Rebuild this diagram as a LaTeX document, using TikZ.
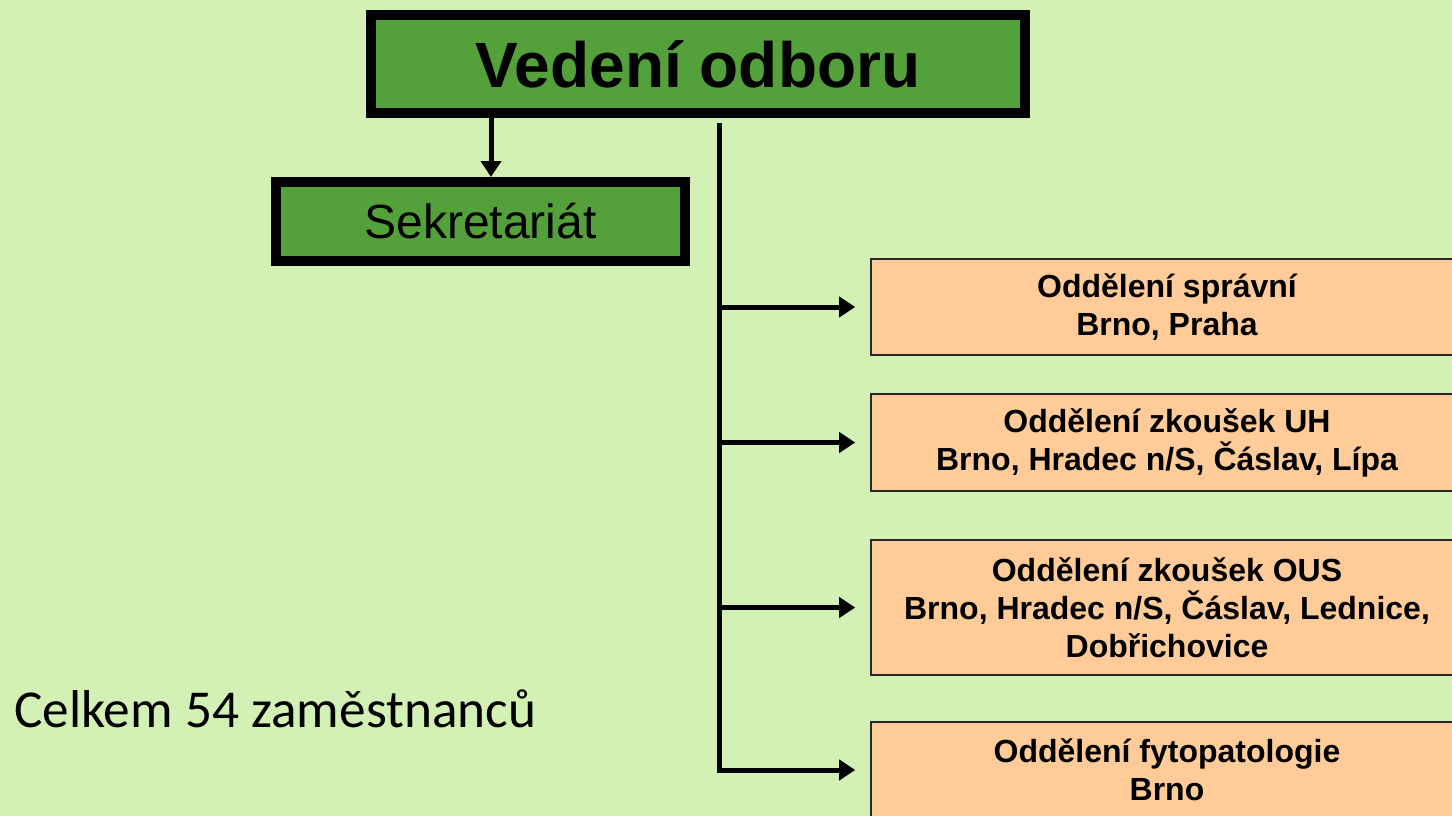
\documentclass[tikz,border=0pt]{standalone}
\usepackage{fontspec}
\setmainfont{Liberation Sans}
\newfontfamily\calib{Carlito}
\usetikzlibrary{arrows.meta}
\definecolor{bgc}{RGB}{211,240,181}
\definecolor{boxgreen}{RGB}{84,160,58}
\definecolor{peach}{RGB}{255,204,153}
\definecolor{peachline}{RGB}{40,40,40}
\tikzset{
  greenbox/.style={draw=black, line width=10pt, fill=boxgreen, inner sep=0pt, text=black},
  unitbox/.style={draw=peachline, line width=1.6pt, fill=peach, inner sep=0pt, align=center,
    minimum width=592pt, font=\fontsize{32}{38}\selectfont\bfseries},
  conn/.style={line width=5pt, black},
  arr/.style={conn, -{Triangle[length=16pt,width=20pt]}}
}
\begin{document}
\begin{tikzpicture}[x=1pt,y=-1pt]
\fill[bgc] (0,0) rectangle (1452,816);
\useasboundingbox (0,0) rectangle (1452,816);
\node[greenbox, minimum width=654pt, minimum height=98pt, font=\fontsize{64}{70}\selectfont\bfseries] (top) at (698,64) {Vedení odboru};
\node[greenbox, minimum width=409pt, minimum height=79pt, font=\fontsize{48}{52}\selectfont] (sek) at (480.5,221.5) {Sekretariát};
\node[unitbox, minimum height=96pt] (u1) at (1167,307) {Oddělení správní\\Brno, Praha};
\node[unitbox, minimum height=97pt] (u2) at (1167,442.5) {Oddělení zkoušek UH\\Brno, Hradec n/S, Čáslav, Lípa};
\node[unitbox, minimum height=135pt] (u3) at (1167,607.5) {Oddělení zkoušek OUS\\Brno, Hradec n/S, Čáslav, Lednice,\\Dobřichovice};
\node[unitbox, minimum height=96pt] (u4) at (1167,770) {Oddělení fytopatologie\\Brno};
\node[anchor=base west, inner sep=0pt, font=\calib\fontsize{53.3}{60}\selectfont] (total) at (14,727) {Celkem 54 zaměstnanců};
\coordinate (sx) at (491,0);
\coordinate (trunk) at (719,123);
\draw[arr] (top.south -| sx) -- (sek.north -| sx);
\draw[arr, shorten >=15pt] (trunk) |- (u4.west);
\draw[arr, shorten >=15pt] (trunk |- u1.west) -- (u1.west);
\draw[arr, shorten >=15pt] (trunk |- u2.west) -- (u2.west);
\draw[arr, shorten >=15pt] (trunk |- u3.west) -- (u3.west);
\end{tikzpicture}
\end{document}
